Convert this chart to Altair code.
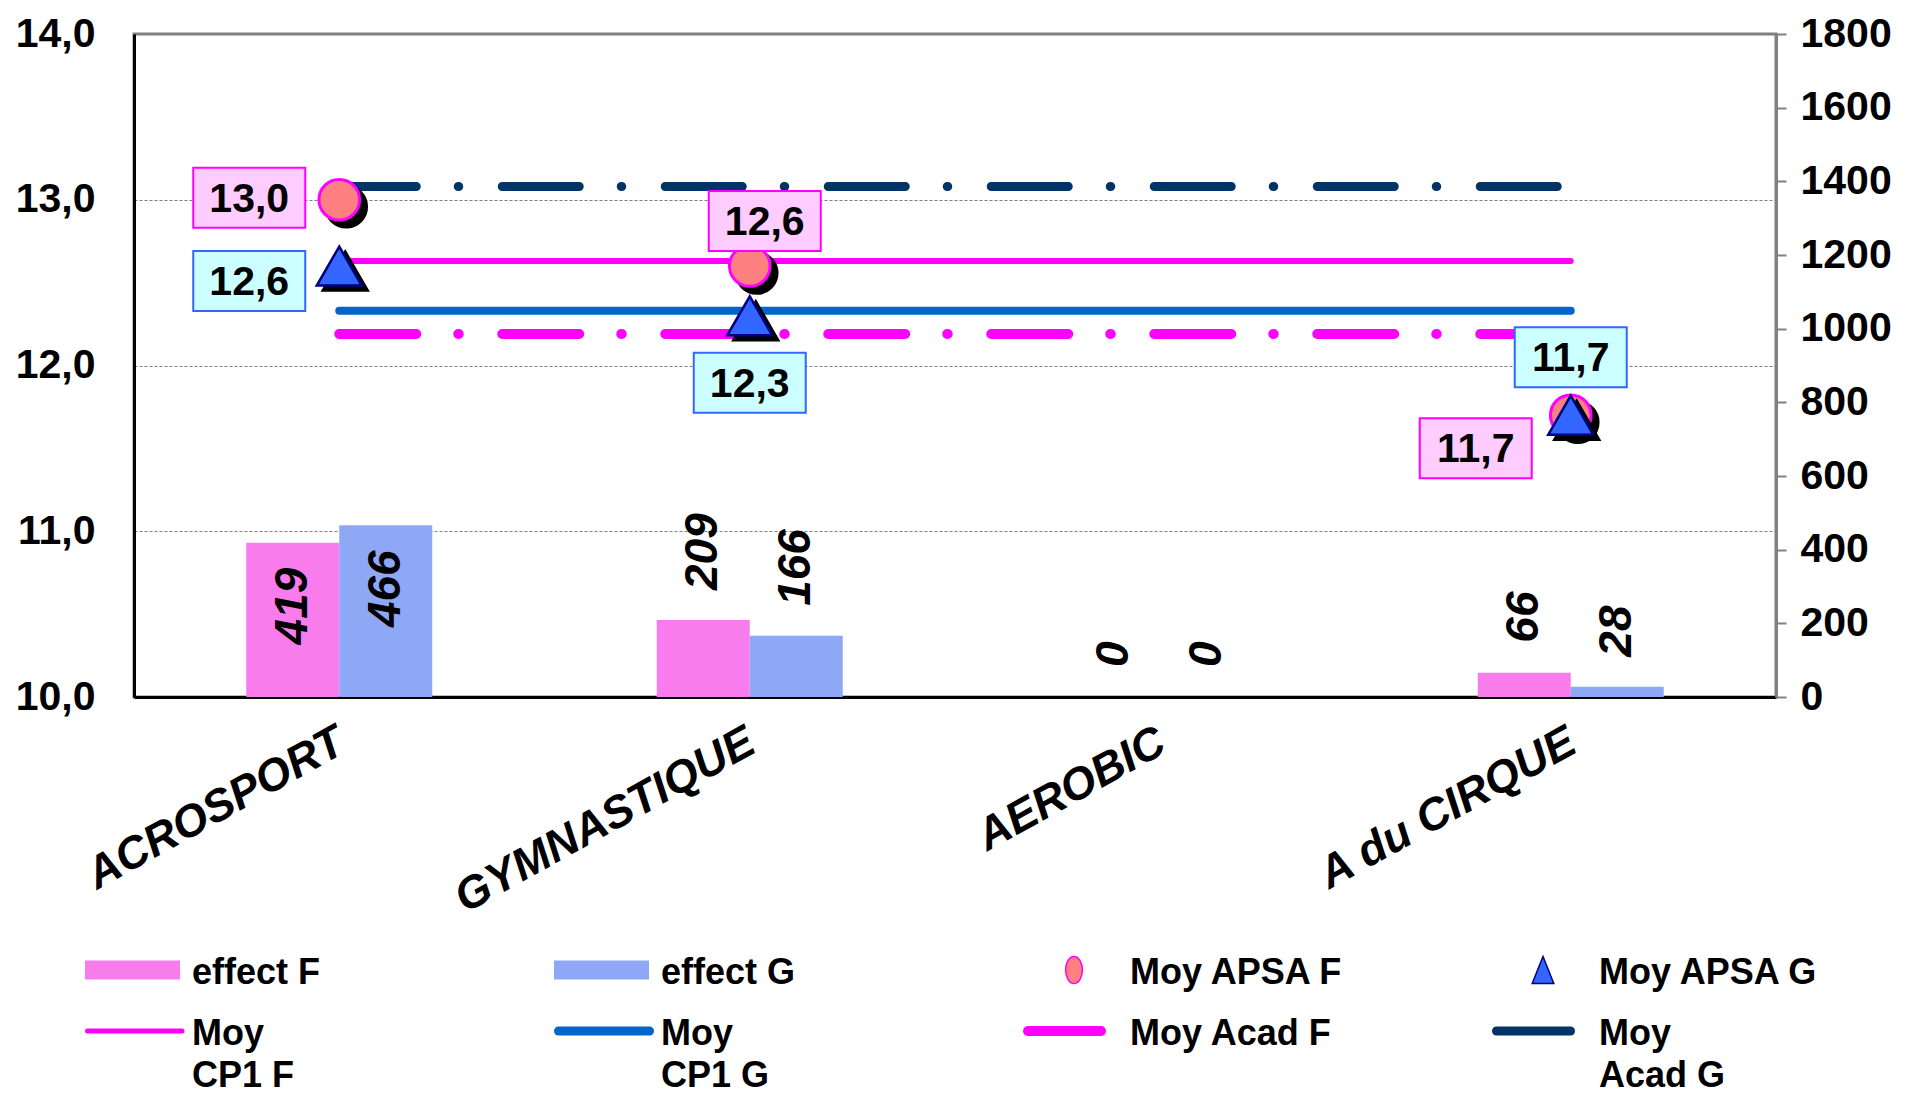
import altair as alt
import pandas as pd

# ---------------- data ----------------
categories = ["ACROSPORT", "GYMNASTIQUE", "AEROBIC", "A du CIRQUE"]
effect_f = [419, 209, 0, 66]
effect_g = [466, 166, 0, 28]
moy_apsa_f = [13.0, 12.6, None, 11.7]
moy_apsa_g = [12.6, 12.3, None, 11.7]
moy_cp1_f = [12.63, 12.63, 12.63, 12.63]
moy_cp1_g = [12.33, 12.33, 12.33, 12.33]
moy_acad_f = [12.19, 12.19, 12.19, 12.19]
moy_acad_g = [13.08, 13.08, 13.08, 13.08]
left_ticks = [10, 11, 12, 13, 14]
right_ticks = [0, 200, 400, 600, 800, 1000, 1200, 1400, 1600, 1800]
legend_labels = ["effect F", "effect G", "Moy APSA F", "Moy APSA G",
                 "Moy\nCP1  F", "Moy\nCP1  G", "Moy Acad F", "Moy\nAcad G"]

# ---------------- styles ----------------
FONT = "Liberation Sans"
PINK_BAR = "#F97CEC"
BLUE_BAR = "#8FA8F6"
MAGENTA = "#FF00FF"
BLUE_LINE = "#0066CC"
NAVY = "#003366"
SALMON = "#FF8080"
TRI_BLUE = "#3366FF"
TRI_EDGE = "#000080"
DASHDOT = [77, 42, 0.5, 43.5]
BAR_W = 93


def long(series_map):
    rows = []
    for name, vals in series_map.items():
        for c, v in zip(categories, vals):
            if v is not None:
                rows.append({"category": c, "series": name, "value": v})
    return pd.DataFrame(rows)


bars_df = long({"effect F": effect_f, "effect G": effect_g})
lines_df = long({"Moy CP1 F": moy_cp1_f, "Moy CP1 G": moy_cp1_g,
                 "Moy Acad F": moy_acad_f, "Moy Acad G": moy_acad_g})
points_df = long({"Moy APSA F": moy_apsa_f, "Moy APSA G": moy_apsa_g})
legend_df = pd.DataFrame({"label": legend_labels, "idx": list(range(len(legend_labels)))})


def xs():
    return alt.Scale(type="band", domain=categories, paddingInner=0, paddingOuter=0)


def yr():
    return alt.Scale(type="linear", domain=[0, 1800], nice=False, zero=True)


def yl():
    return alt.Scale(type="linear", domain=[10, 14], nice=False, zero=False)


def X(axis=None):
    return alt.X("category:N", sort=categories, scale=xs(), title=None, axis=axis)


def YR(axis=None):
    return alt.Y("value:Q", scale=yr(), title=None, axis=axis)


def YL(axis=None):
    return alt.Y("value:Q", scale=yl(), title=None, axis=axis)


x_axis = alt.Axis(orient="bottom", labelAngle=-29, labelAlign="right",
                  labelBaseline="top", labelFontSize=45, labelFont=FONT,
                  labelFontStyle="italic", labelFontWeight="bold",
                  labelColor="black", labelLimit=800, labelPadding=22,
                  labelOffset=-9,
                  ticks=False, domain=True, domainColor="black",
                  domainWidth=3, grid=False)
right_axis = alt.Axis(orient="right", values=right_ticks, format="d",
                      labelFontSize=41, labelFont=FONT, labelFontWeight="bold",
                      labelColor="black", labelPadding=14,
                      tickColor="#808080", tickSize=10, tickWidth=2,
                      domainColor="#808080", domainWidth=3, grid=False)
left_axis = alt.Axis(orient="left", values=left_ticks,
                     labelExpr="replace(format(datum.value, '.1f'), '.', ',')",
                     labelFontSize=41, labelFont=FONT, labelFontWeight="bold",
                     labelColor="black", labelPadding=39, ticks=False,
                     domain=True, domainColor="black", domainWidth=3,
                     grid=True, gridColor="#808080", gridDash=[3, 2], gridWidth=1)

layers = []

# ---------------- bars (right axis) ----------------
bf = alt.Chart(bars_df).transform_filter("datum.series == 'effect F'")
bg = alt.Chart(bars_df).transform_filter("datum.series == 'effect G'")

layers.append(bf.mark_bar(width=BAR_W, color=PINK_BAR, xOffset=-BAR_W / 2).encode(
    x=X(x_axis), y=YR(right_axis)))
layers.append(bg.mark_bar(width=BAR_W, color=BLUE_BAR, xOffset=BAR_W / 2).encode(
    x=X(), y=YR()))

bar_text_style = dict(angle=270, baseline="middle", fontSize=46, font=FONT,
                      fontStyle="italic", fontWeight="bold", color="black")
for base, off in ((bf, -BAR_W / 2), (bg, BAR_W / 2)):
    layers.append(base.transform_filter("datum.value > 300").mark_text(
        align="right", dx=-25, xOffset=off, **bar_text_style
    ).encode(x=X(), y=YR(), text=alt.Text("value:Q")))
    layers.append(base.transform_filter("datum.value <= 300").mark_text(
        align="left", dx=30, xOffset=off, **bar_text_style
    ).encode(x=X(), y=YR(), text=alt.Text("value:Q")))

# ---------------- average lines (left axis) ----------------


def line_layer(name, color, width, dash=None, axis=None):
    kw = dict(color=color, strokeWidth=width, strokeCap="round")
    if dash:
        kw["strokeDash"] = dash
    return alt.Chart(lines_df).transform_filter(f"datum.series == '{name}'").mark_line(
        **kw).encode(x=X(), y=YL(axis))


layers.append(line_layer("Moy Acad G", NAVY, 9, DASHDOT, axis=left_axis))
layers.append(line_layer("Moy CP1 F", MAGENTA, 6))
layers.append(line_layer("Moy CP1 G", BLUE_LINE, 8))
layers.append(line_layer("Moy Acad F", MAGENTA, 10, DASHDOT))

# ---------------- APSA points ----------------
pf = alt.Chart(points_df).transform_filter("datum.series == 'Moy APSA F'")
pg = alt.Chart(points_df).transform_filter("datum.series == 'Moy APSA G'")

layers.append(pf.mark_point(shape="circle", size=1650, filled=True, fill="black",
                            stroke="black", strokeWidth=3, opacity=1,
                            xOffset=7, yOffset=7).encode(x=X(), y=YL()))
layers.append(pf.mark_point(shape="circle", size=1650, filled=True, fill=SALMON,
                            stroke=MAGENTA, strokeWidth=3, opacity=1).encode(x=X(), y=YL()))
layers.append(pg.mark_point(shape="triangle-up", size=2025, filled=True, fill="black",
                            stroke="black", strokeWidth=2.5, opacity=1,
                            xOffset=6, yOffset=5).encode(x=X(), y=YL()))
layers.append(pg.mark_point(shape="triangle-up", size=2025, filled=True, fill=TRI_BLUE,
                            stroke=TRI_EDGE, strokeWidth=2.5, opacity=1).encode(x=X(), y=YL()))

# data-label boxes (placement offsets relative to their point)
box_place = [
    ("ACROSPORT", "Moy APSA F", -90, -2),
    ("ACROSPORT", "Moy APSA G", -90, 15),
    ("GYMNASTIQUE", "Moy APSA F", 15, -45),
    ("GYMNASTIQUE", "Moy APSA G", 0, 67),
    ("A du CIRQUE", "Moy APSA G", 0, -58),
    ("A du CIRQUE", "Moy APSA F", -95, 33),
]
BOX_PATH = "M-1,-0.536L1,-0.536L1,0.536L-1,0.536Z"
for cat, ser, dx, dy in box_place:
    fill, stroke = ("#FFCCFF", MAGENTA) if ser.endswith("F") else ("#CCFFFF", TRI_BLUE)
    base = alt.Chart(points_df).transform_filter(
        f"datum.category == '{cat}' && datum.series == '{ser}'"
    ).transform_calculate(label="replace(format(datum.value, '.1f'), '.', ',')")
    layers.append(base.mark_point(shape=BOX_PATH, size=112 * 112, filled=True,
                                  fill=fill, stroke=stroke, strokeWidth=2,
                                  opacity=1, xOffset=dx, yOffset=dy).encode(x=X(), y=YL()))
    layers.append(base.mark_text(fontSize=41, font=FONT, fontWeight="bold",
                                 color="black", align="center", baseline="middle",
                                 dx=dx, dy=dy + 2).encode(x=X(), y=YL(), text="label:N"))

# ---------------- legend ----------------
leg = alt.Chart(legend_df).transform_calculate(
    col="datum.idx % 4", row="floor(datum.idx / 4)",
    lines="split(datum.label, '\\n')")


def LX():
    return alt.X("col:Q", scale=alt.Scale(type="linear", domain=[0, 3], range=[-49, 1358],
                                          nice=False, zero=False), axis=None, title=None)


def LY():
    return alt.Y("row:Q", scale=alt.Scale(type="linear", domain=[0, 1], range=[936, 997],
                                          nice=False, zero=False), axis=None, title=None)


def leg_item(i):
    return leg.transform_filter(f"datum.idx == {i}")


RECT_PATH = "M-1,-0.2L1,-0.2L1,0.2L-1,0.2Z"
ELL_PATH = "M0,-1A0.62,1,0,1,1,0,1A0.62,1,0,1,1,0,-1Z"
TRI_PATH = "M0,-1L-0.8,1L0.8,1Z"
layers += [
    leg_item(0).mark_point(shape=RECT_PATH, size=95 * 95, filled=True, fill=PINK_BAR,
                           strokeWidth=0, opacity=1, xOffset=47.5).encode(x=LX(), y=LY()),
    leg_item(1).mark_point(shape=RECT_PATH, size=95 * 95, filled=True, fill=BLUE_BAR,
                           strokeWidth=0, opacity=1, xOffset=47.5).encode(x=LX(), y=LY()),
    leg_item(2).mark_point(shape=ELL_PATH, size=27 * 27, filled=True, fill=SALMON,
                           stroke=MAGENTA, strokeWidth=1.5, opacity=1,
                           xOffset=51).encode(x=LX(), y=LY()),
    leg_item(3).mark_point(shape=TRI_PATH, size=27 * 27, filled=True, fill=TRI_BLUE,
                           stroke=TRI_EDGE, strokeWidth=1.5, opacity=1,
                           xOffset=51).encode(x=LX(), y=LY()),
    leg_item(4).mark_rule(color=MAGENTA, strokeWidth=5, strokeCap="round",
                          xOffset=2.5, x2Offset=97).encode(x=LX(), x2="col:Q", y=LY()),
    leg_item(5).mark_rule(color=BLUE_LINE, strokeWidth=9, strokeCap="round",
                          xOffset=4.5, x2Offset=95.5).encode(x=LX(), x2="col:Q", y=LY()),
    leg_item(6).mark_rule(color=MAGENTA, strokeWidth=10, strokeCap="round",
                          xOffset=5, x2Offset=78).encode(x=LX(), x2="col:Q", y=LY()),
    leg_item(7).mark_rule(color=NAVY, strokeWidth=9, strokeCap="round",
                          xOffset=4.5, x2Offset=78.5).encode(x=LX(), x2="col:Q", y=LY()),
    leg.mark_text(align="left", baseline="top", dx=107, dy=-14, fontSize=36,
                  font=FONT, fontWeight="bold", color="black", lineHeight=42).encode(
        x=LX(), y=LY(), text="lines:N"),
]

chart = alt.layer(*layers).resolve_scale(
    x="independent", y="independent"
).properties(
    width=1642, height=663,
    padding={"left": 126, "top": 26, "right": 123, "bottom": 402},
    autosize=alt.AutoSizeParams(type="none"),
).configure(font=FONT).configure_view(stroke="#808080", strokeWidth=3)

chart.save("out.html", embed_options={"renderer": "svg", "actions": False})
